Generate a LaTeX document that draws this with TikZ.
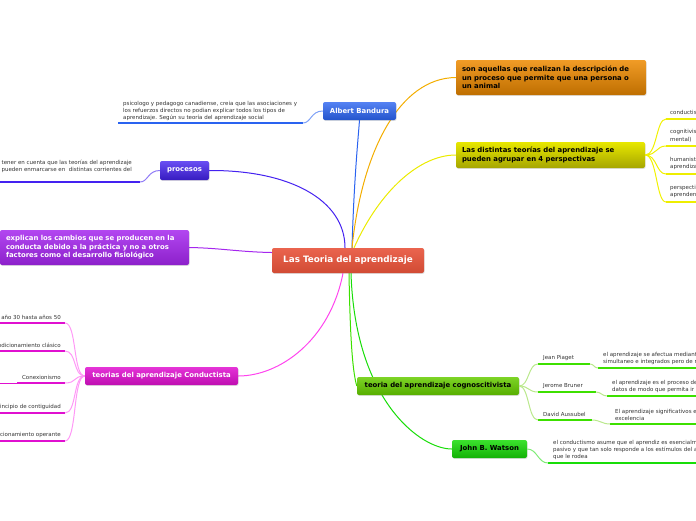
\documentclass[tikz,border=0pt]{standalone}
\usepackage{fontspec}
\setmainfont{DejaVu Sans}
\usetikzlibrary{positioning,shadows,backgrounds}
\definecolor{rootred}{HTML}{E8533A}
\definecolor{bandblue}{HTML}{2A63F0}
\definecolor{procblue}{HTML}{4422F0}
\definecolor{violet}{HTML}{A526EE}
\definecolor{magenta}{HTML}{E010D0}
\definecolor{pinkline}{HTML}{FF44EE}
\definecolor{orangebox}{HTML}{EE8A00}
\definecolor{yellowbox}{HTML}{DDDD00}
\definecolor{cogngreen}{HTML}{66CC00}
\definecolor{watsgreen}{HTML}{18DD08}
\definecolor{notetext}{HTML}{333333}

\begin{document}
\begin{tikzpicture}[x=1pt,y=-1pt,
  topic/.style={rounded corners=2pt,inner xsep=6pt,inner ysep=2pt,
    font=\bfseries\fontsize{6.9}{8.4}\selectfont,
    drop shadow={opacity=0.25,shadow xshift=0.6pt,shadow yshift=-0.9pt}},
  note/.style={font=\fontsize{5.5}{7.2}\selectfont,text=notetext,inner sep=0pt},
  branch/.style={line width=1pt},
  uline/.style={line width=2pt}
]
\useasboundingbox (0,0) rectangle (696,520);

% central topic and main boxes
\node[topic,top color=rootred!90!white,bottom color=rootred!90!black,text=white,
  minimum width=152pt,minimum height=25pt,font=\bfseries\fontsize{8.8}{10}\selectfont]
  (root) at (348,260.5) {Las Teoria del aprendizaje};
\node[topic,top color=bandblue!80!white,bottom color=bandblue!85!black,text=white,
  minimum width=73pt,minimum height=18pt] (bandura) at (359.5,111) {Albert Bandura};
\node[topic,top color=procblue!80!white,bottom color=procblue!80!black,text=white,
  minimum width=49pt,minimum height=19pt] (procesos) at (184.5,170.5) {procesos};
\node[topic,top color=violet!85!white,bottom color=violet!85!black,text=white,
  text width=177pt,minimum height=35pt,align=left] (explican) at (94.5,247.5)
  {explican los cambios que se producen en la\\conducta debido a la práctica y no a otros\\factores como el desarrollo fisiológico};
\node[topic,top color=magenta!85!white,bottom color=magenta!85!black,text=white,
  minimum width=153pt,minimum height=18pt] (conduct) at (161.5,376)
  {teorias del aprendizaje Conductista};
\node[topic,top color=orangebox!85!white,bottom color=orangebox!80!black,text=black,
  text width=178pt,minimum height=35pt,align=left] (describe) at (551,77.5)
  {son aquellas que realizan la descripción de\\un proceso que permite que una persona o\\un animal};
\node[topic,top color=yellowbox!70!yellow,bottom color=yellowbox!75!black,text=black,
  text width=177pt,minimum height=26pt,align=left] (perspect) at (550.5,155)
  {Las distintas teorías del aprendizaje se\\pueden agrupar en 4 perspectivas};
\node[topic,top color=cogngreen!85!white,bottom color=cogngreen!85!black,text=black,
  minimum width=162pt,minimum height=18pt] (cognos) at (438,386)
  {teoria del aprendizaje cognoscitivista};
\node[topic,top color=watsgreen!85!white,bottom color=watsgreen!80!black,text=black,
  minimum width=75pt,minimum height=18pt] (watson) at (489.5,449) {John B. Watson};

% branches from the central topic, behind the boxes
\begin{pgfonlayer}{background}
\draw[branch,draw=bandblue] (root.north)+(4,0) .. controls (354,180) and (358,140) .. (bandura.south);
\draw[branch,draw=orangebox!70!yellow] (root.north)+(4,0) .. controls (362,150) and (400,78) .. (describe.west);
\draw[branch,draw=yellowbox!60!yellow] (root.north)+(6,0) .. controls (380,190) and (420,155) .. (perspect.west);
\draw[branch,draw=procblue] (root.north)+(-3,0) .. controls (345,200) and (290,170) .. (procesos.east);
\draw[branch,draw=violet] (root.west)+(0,-8) .. controls (240,252) and (220,248) .. (explican.east);
\draw[branch,draw=pinkline] (root.south)+(-5,0) .. controls (330,340) and (280,376) .. (conduct.east);
\draw[branch,draw=cogngreen!60!green] (root.south)+(1,0) .. controls (350,330) and (352,370) .. (cognos.west);
\draw[branch,draw=watsgreen] (root.south)+(3,0) .. controls (355,400) and (420,449) .. (watson.west);
\end{pgfonlayer}

% Albert Bandura
\node[note,anchor=south west,align=left] (bandnote) at (123,121)
  {psicologo y pedagogo canadiense, creia que las asociaciones y\\
   los refuerzos directos no podian explicar todos los tipos de\\
   aprendizaje. Según su teoría del aprendizaje social};
\coordinate (bandL) at (118,123);
\coordinate (bandR) at (303,123);
\draw[uline,draw=bandblue] (bandL) -- (bandR);
\draw[branch,draw=bandblue!60!white] (bandura.west) .. controls +(-12,0) and +(8,0) .. (bandR);

% procesos
\node[note,anchor=south east,align=right] (procnote) at (132,173)
  {tener en cuenta que las teorías del aprendizaje\\
   pueden enmarcarse en \ distintas corrientes del};
\coordinate (procL) at (0,182);
\coordinate (procR) at (140,182);
\draw[uline,draw=procblue] (procL) -- (procR);
\draw[branch,draw=procblue!60!white] (procesos.west) .. controls +(-12,0) and +(8,0) .. (procR);

% Conductista
\foreach \y/\txt [count=\i] in {320/año 30 hasta años 50,
    348/ndicionamiento clásico, 380/Conexionismo,
    410/incipio de contiguidad, 438/cionamiento operante}{
  \node[note,anchor=south east] (cond\i) at (61,\y) {\txt};
  \coordinate (condR\i) at (65,\y+3);
  \draw[branch,draw=pinkline!55!white] (conduct.west) .. controls +(-12,0) and +(12,0) .. (condR\i);
}
\draw[uline,draw=magenta] (0,323) -- (condR1);
\draw[uline,draw=magenta] (0,351) -- (condR2);
\draw[line width=0.6pt,draw=magenta] (0,383) -- (17,383);
\draw[uline,draw=magenta] (17,383) -- (condR3);
\draw[uline,draw=magenta] (0,413) -- (condR4);
\draw[uline,draw=magenta] (0,441) -- (condR5);

% 4 perspectivas
\foreach \y/\txt [count=\i] in {115/conductis, 142/cognitivis\\mental),
    170/humanist\\aprendiza, 198/perspecti\\aprenden}{
  \node[note,anchor=south west,align=left] (persp\i) at (670,\y) {\txt};
  \coordinate (perspL\i) at (666,\y+4);
  \draw[uline,draw=yellowbox!50!yellow] (perspL\i) -- (696,\y+4);
  \draw[branch,draw=yellowbox!40!yellow] (perspect.east) .. controls +(12,0) and +(-10,0) .. (perspL\i);
}

% cognoscitivista
\node[note,anchor=south west] (piaget) at (543,361) {Jean Piaget};
\node[note,anchor=south west] (bruner) at (543,389) {Jerome Bruner};
\node[note,anchor=south west] (ausub) at (543,417) {David Aussubel};
\coordinate (piagetL) at (538,364);
\coordinate (piagetR) at (590,364);
\coordinate (brunerL) at (538,392);
\coordinate (brunerR) at (596,392);
\coordinate (ausubL) at (538,420);
\coordinate (ausubR) at (592,420);
\draw[uline,draw=cogngreen!60!green] (piagetL) -- (piagetR);
\draw[uline,draw=cogngreen!60!green] (brunerL) -- (brunerR);
\draw[uline,draw=cogngreen!60!green] (ausubL) -- (ausubR);
\foreach \n in {piagetL,brunerL,ausubL}
  \draw[branch,draw=cogngreen!45!white] (cognos.east) .. controls +(10,0) and +(-10,0) .. (\n);

\node[note,anchor=south west,align=left] (piagetnote) at (603,365)
  {el aprendizaje se afectua mediante\\simultaneo e integrados pero de m};
\node[note,anchor=south west,align=left] (brunernote) at (612,393)
  {el aprendizaje es el proceso de\\datos de modo que permita ir};
\node[note,anchor=south west,align=left] (ausubnote) at (615,421)
  {El aprendizaje significativos e\\excelencia};
\coordinate (piagetN) at (598,368);
\coordinate (brunerN) at (607,396);
\coordinate (ausubN) at (610,424);
\draw[uline,draw=cogngreen!60!green] (piagetN) -- (696,368);
\draw[uline,draw=cogngreen!60!green] (brunerN) -- (696,396);
\draw[uline,draw=cogngreen!60!green] (ausubN) -- (696,424);
\draw[branch,draw=cogngreen!45!white] (piagetR) .. controls +(4,0) and +(-4,0) .. (piagetN);
\draw[branch,draw=cogngreen!45!white] (brunerR) .. controls +(5,0) and +(-5,0) .. (brunerN);
\draw[branch,draw=cogngreen!45!white] (ausubR) .. controls +(8,0) and +(-8,0) .. (ausubN);

% John B. Watson
\node[note,anchor=south west,align=left] (watsnote) at (553,460)
  {el conductismo asume que el aprendiz es esencialm\\
   pasivo y que tan solo responde a los estímulos del a\\
   que le rodea};
\coordinate (watsN) at (548,463);
\draw[uline,draw=watsgreen] (watsN) -- (696,463);
\draw[branch,draw=watsgreen!55!white] (watson.east) .. controls +(10,0) and +(-10,0) .. (watsN);
\end{tikzpicture}
\end{document}
